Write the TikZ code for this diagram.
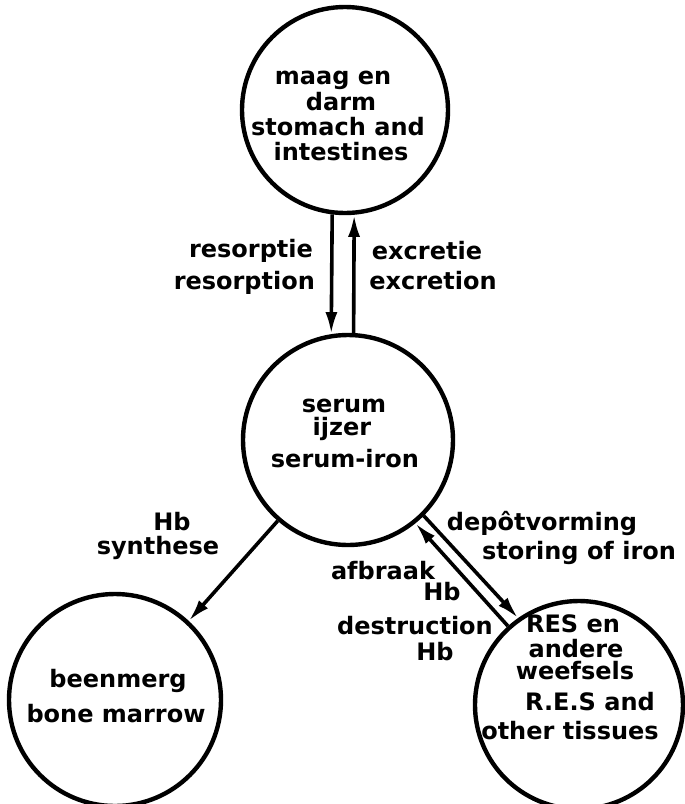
\documentclass[tikz,border=0pt]{standalone}
\usepackage{fontspec}
\setmainfont{DejaVu Sans}
\usepackage{tikz}
\usetikzlibrary{arrows.meta}

\begin{document}
\begin{tikzpicture}[x=0.5pt, y=-0.5pt,
    orgaan/.style={draw, circle, line width=2.2pt, inner sep=0pt},
    pijl/.style={line width=1.8pt, -{Latex[length=11pt, width=6pt]}},
    tekst/.style={font=\fontsize{12}{14}\selectfont\bfseries, anchor=base}]
    \useasboundingbox (0,0) rectangle (685,804);
    \clip (0,0) rectangle (685,804);
    % de vier compartimenten
    \node[orgaan, minimum size=103pt] (maag) at (345,110) {};
    \node[orgaan, minimum size=105pt] (serum) at (348,440) {};
    \node[orgaan, minimum size=106pt] (merg) at (115,700) {};
    \node[orgaan, minimum size=104pt] (res) at (579,705) {};
    % pijlen
    \draw[pijl] (maag.-97) -- (serum.99);
    \draw[pijl] (serum.87) -- (maag.-85);
    \draw[pijl] (serum.-131) -- (merg.47);
    \draw[pijl] (serum.-45) -- (res.125);
    \draw[pijl] (res.132) -- (serum.-51);
    % tekst in de cirkels
    \node[tekst] (maag1) at (333,84) {maag en};
    \node[tekst] (maag2) at (341,110) {darm};
    \node[tekst] (maag3) at (338,135) {stomach and};
    \node[tekst] (maag4) at (341,160) {intestines};
    \node[tekst] (serum1) at (344,412) {serum};
    \node[tekst] (serum2) at (342,435) {ijzer};
    \node[tekst] (serum3) at (345,467) {serum-iron};
    \node[tekst] (merg1) at (118,687) {beenmerg};
    \node[tekst] (merg2) at (116,722) {bone marrow};
    \node[tekst] (res1) at (573,632) {RES en};
    \node[tekst] (res2) at (576,657) {andere};
    \node[tekst] (res3) at (575,679) {weefsels};
    \node[tekst] (res4) at (590,710) {R.E.S and};
    \node[tekst] (res5) at (570,739) {other tissues};
    % tekst bij de pijlen
    \node[tekst, anchor=base east] (resorp1) at (320,257) {resorptie};
    \node[tekst, anchor=base east] (resorp2) at (322,289) {resorption};
    \node[tekst] (excr1) at (427,259) {excretie};
    \node[tekst] (excr2) at (433,289) {excretion};
    \node[tekst] (synth1) at (172,530) {Hb};
    \node[tekst] (synth2) at (158,554) {synthese};
    \node[tekst] (depot1) at (542,530) {depôtvorming};
    \node[tekst] (depot2) at (579,559) {storing of iron};
    \node[tekst] (afbr1) at (383,579) {afbraak};
    \node[tekst] (afbr2) at (442,600) {Hb};
    \node[tekst] (afbr3) at (415,634) {destruction};
    \node[tekst] (afbr4) at (435,660) {Hb};
\end{tikzpicture}
\end{document}
